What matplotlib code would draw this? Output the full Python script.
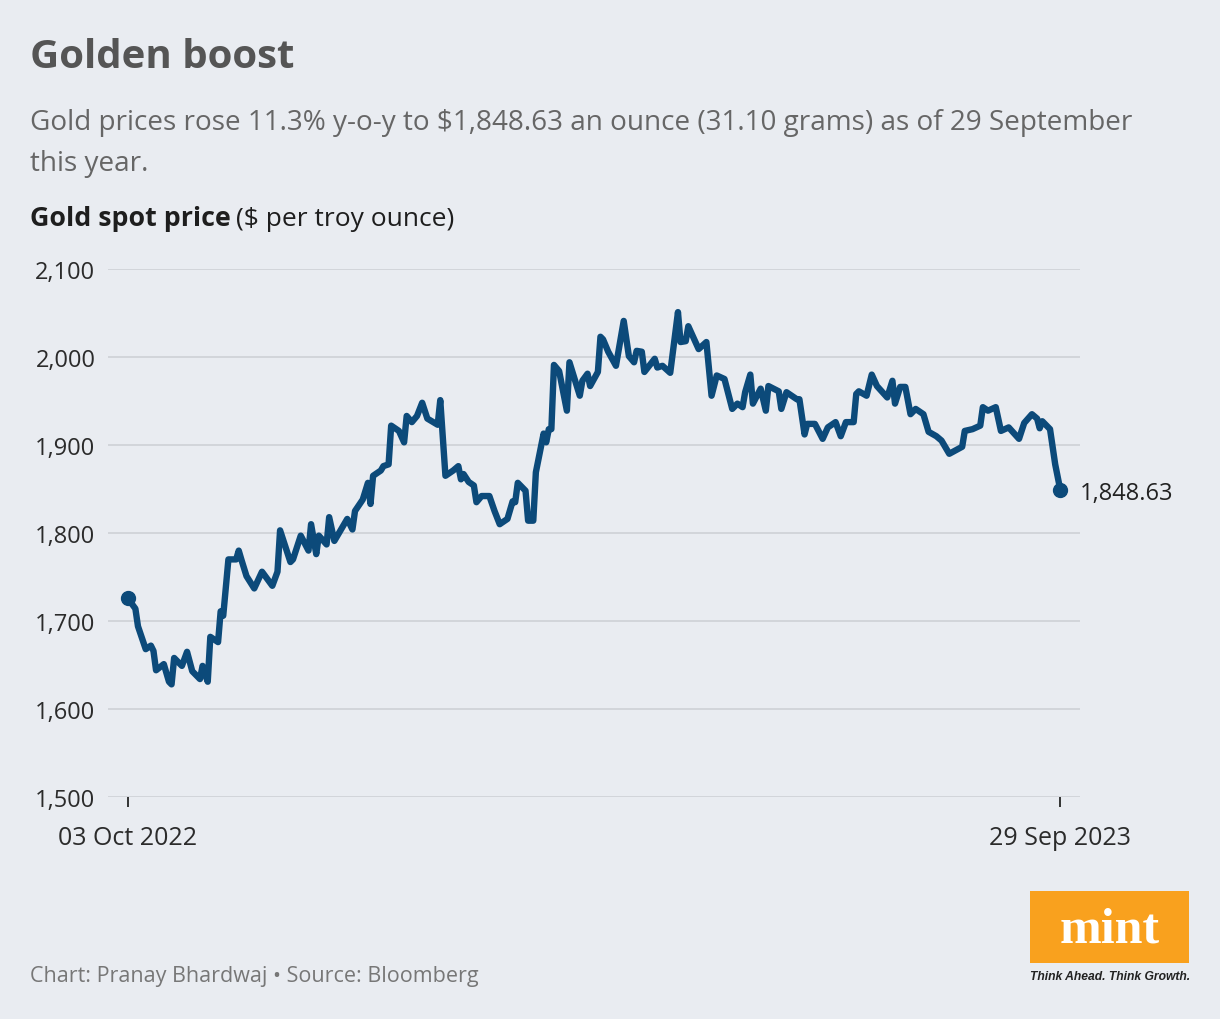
"""Gold spot price line chart (mint style)."""

import matplotlib
matplotlib.use("Agg")
import matplotlib.pyplot as plt
import pandas as pd

plt.rcParams["font.family"] = ["Open Sans", "DejaVu Sans"]

# ── Data: days since 03 Oct 2022 and spot price ($/oz) ──
START = "2022-10-03"
day_offsets = [
    0, 3, 4, 7, 9, 10, 11, 14, 16, 17, 18, 21, 23, 25, 28, 29, 31, 32, 35, 36,
    37, 39, 42, 43, 44, 46, 49, 52, 56, 58, 59, 63, 64, 67, 70, 71, 73, 74, 77, 78,
    80, 85, 87, 88, 91, 93, 94, 95, 98, 99, 101, 102, 105, 107, 108, 110, 112, 114, 116, 120,
    121, 123, 126, 128, 129, 130, 132, 134, 135, 137, 140, 142, 144, 147, 149, 150, 151, 154, 155, 157,
    158, 161, 162, 163, 164, 165, 167, 170, 171, 175, 176, 178, 179, 182, 183, 184, 186, 189, 192, 194,
    196, 197, 199, 200, 204, 205, 207, 210, 213, 214, 216, 217, 219, 221, 224, 225, 226, 228, 231, 234,
    236, 238, 239, 241, 242, 245, 247, 248, 252, 253, 255, 259, 260, 262, 263, 266, 269, 271, 274, 276,
    278, 281, 282, 283, 286, 288, 290, 294, 296, 297, 299, 301, 303, 305, 308, 310, 313, 315, 318, 323,
    324, 327, 330, 331, 333, 336, 338, 341, 345, 347, 350, 352, 353, 354, 357, 359, 361,
]
prices = [
    1726, 1714, 1694, 1668, 1672, 1666, 1644, 1651, 1631, 1628, 1658, 1649, 1665, 1643, 1634, 1649, 1631, 1682, 1676, 1711,
    1706, 1770, 1770, 1780, 1770, 1751, 1737, 1756, 1740, 1756, 1803, 1767, 1770, 1797, 1780, 1810, 1776, 1797, 1787, 1818,
    1791, 1816, 1804, 1825, 1838, 1857, 1833, 1865, 1871, 1876, 1878, 1922, 1916, 1903, 1933, 1926, 1933, 1948, 1930, 1923,
    1951, 1865, 1871, 1876, 1861, 1867, 1858, 1854, 1835, 1842, 1842, 1825, 1810, 1816, 1836, 1835, 1857, 1848, 1814, 1814,
    1869, 1913, 1903, 1918, 1918, 1991, 1984, 1939, 1994, 1956, 1973, 1981, 1967, 1983, 2023, 2020, 2006, 1990, 2041, 2001,
    1994, 2007, 2006, 1983, 1998, 1988, 1990, 1982, 2051, 2017, 2018, 2035, 2022, 2009, 2017, 1986, 1956, 1979, 1975, 1941,
    1947, 1943, 1960, 1980, 1947, 1964, 1939, 1967, 1961, 1941, 1960, 1952, 1952, 1912, 1924, 1924, 1907, 1920, 1926, 1910,
    1926, 1926, 1958, 1961, 1956, 1980, 1967, 1954, 1973, 1947, 1966, 1966, 1935, 1941, 1935, 1915, 1910, 1905, 1890, 1898,
    1916, 1918, 1922, 1943, 1939, 1943, 1916, 1920, 1907, 1925, 1935, 1930, 1919, 1927, 1918, 1878, 1848.63,
]
y_ticks = [1500, 1600, 1700, 1800, 1900, 2000, 2100]
x_tick_labels = ["03 Oct 2022", "29 Sep 2023"]

dates = pd.to_datetime(START) + pd.to_timedelta(day_offsets, unit="D")

BG = "#e9ecf1"
LINE = "#0c4a7a"
W, H = 1220, 1020


def fx(px):
    return px / W


def fy(py):
    return 1 - py / H


fig = plt.figure(figsize=(W / 100, H / 100), dpi=100, facecolor=BG)
ax = fig.add_axes([fx(108), fy(798), fx(1080) - fx(108), fy(270) - fy(798)])
ax.set_facecolor(BG)

ax.plot(dates, prices, color=LINE, lw=4.6, solid_joinstyle="round",
        solid_capstyle="round", zorder=3)
ax.plot([dates[0], dates[-1]], [prices[0], prices[-1]], "o", color=LINE,
        ms=10, zorder=4)
ax.annotate(f"{prices[-1]:,.2f}", (dates[-1], prices[-1]), xytext=(14, -2),
            textcoords="offset points", ha="left", va="center",
            fontsize=17, color="#222222")

ax.set_ylim(1500, 2100)
ax.set_yticks(y_ticks)
ax.set_yticklabels([f"{v:,}" for v in y_ticks])
pad_days = pd.Timedelta(days=7.6)
ax.set_xlim(dates[0] - pad_days, dates[-1] + pad_days)
ax.set_xticks([dates[0], dates[-1]])
ax.set_xticklabels(x_tick_labels)

ax.grid(axis="y", color="#d2d5da", lw=1.4)
ax.set_axisbelow(True)
for s in ax.spines.values():
    s.set_visible(False)
ax.tick_params(axis="y", length=0, pad=9, labelsize=17, labelcolor="#2b2b2b")
ax.tick_params(axis="x", length=7, width=1.4, color="#333333", pad=13,
               labelsize=18, labelcolor="#2b2b2b")

# ── Header texts ──
fig.text(fx(30), fy(68), "Golden boost", fontsize=29, fontweight="bold",
         color="#555555", va="baseline")
fig.text(fx(30), fy(130),
         "Gold prices rose 11.3% y-o-y to $1,848.63 an ounce (31.10 grams) as of 29 September",
         fontsize=20.1, color="#666666", va="baseline")
fig.text(fx(30), fy(171), "this year.", fontsize=20.1, color="#666666", va="baseline")
lbl = fig.text(fx(30), fy(226), "Gold spot price", fontsize=19.3, fontweight="bold",
               color="#1e1e1e", va="baseline")
fig.canvas.draw()
bb = lbl.get_window_extent()
fig.text(bb.x1 / W + fx(5), fy(226), "($ per troy ounce)", fontsize=19,
         color="#1e1e1e", va="baseline")

# ── Footer and logo ──
fig.text(fx(30), fy(982), "Chart: Pranay Bhardwaj • Source: Bloomberg", fontsize=15.5,
         color="#777777", va="baseline")
logo = fig.add_axes([fx(1030), fy(964), fx(1189) - fx(1030), fy(892) - fy(964)])
logo.set_facecolor("#f9a11e")
logo.set_xticks([])
logo.set_yticks([])
for s in logo.spines.values():
    s.set_visible(False)
logo.text(0.5, 0.47, "mint", ha="center", va="center", color="white",
          fontsize=36, fontweight="bold", family="Liberation Serif",
          transform=logo.transAxes)
fig.text(fx(1110), fy(977), "Think Ahead. Think Growth.", ha="center", va="center",
         fontsize=8.7, fontweight="bold", style="italic", family="Liberation Sans",
         color="#222222")

fig.savefig("out.png", dpi=100, facecolor=BG)
